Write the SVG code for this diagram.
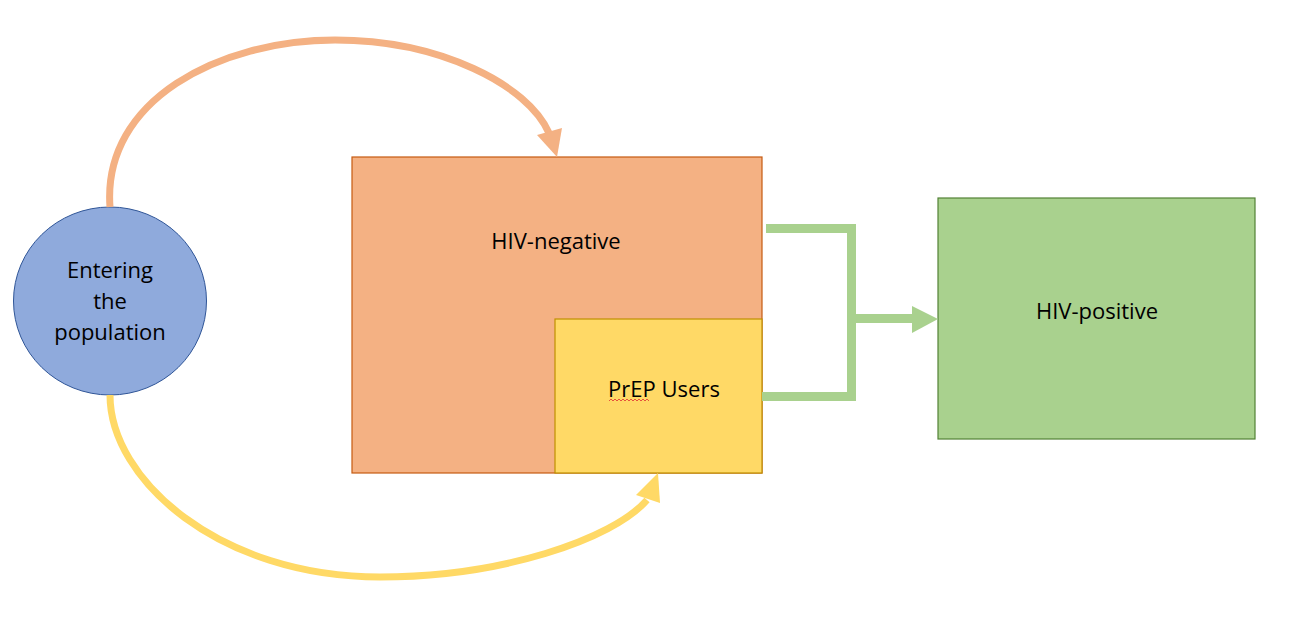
<svg xmlns="http://www.w3.org/2000/svg" width="1294" height="633" viewBox="0 0 1294 633">
<defs>
<style>
.lbl{font-family:"Open Sans","Liberation Sans",sans-serif;font-size:22px;fill:#000;text-anchor:middle}
.arc{fill:none;stroke-width:7;stroke-linecap:butt}
</style>
</defs>
<rect width="1294" height="633" fill="#fff"/>
<g id="hiv-negative">
<rect x="352" y="157" width="410" height="316" fill="#F4B183" stroke="#C55A11" stroke-width="1.2"/>
<text class="lbl" x="556" y="249">HIV-negative</text>
</g>
<g id="prep-users">
<rect x="555" y="319" width="207" height="154" fill="#FFD966" stroke="#BF9000" stroke-width="1.2"/>
<text class="lbl" x="664" y="397">PrEP Users</text>
<path d="M609,401 l2,-2 2,2 2,-2 2,2 2,-2 2,2 2,-2 2,2 2,-2 2,2 2,-2 2,2 2,-2 2,2 2,-2 2,2 2,-2 2,2 2,-2 2,2" fill="none" stroke="#E03030" stroke-width="0.8"/>
</g>
<g id="entering">
<ellipse cx="110" cy="301" rx="96.5" ry="94" fill="#8FAADC" stroke="#2F5597" stroke-width="1"/>
<text class="lbl" x="110" y="278">Entering</text>
<text class="lbl" x="110" y="309">the</text>
<text class="lbl" x="110" y="340">population</text>
</g>
<g id="hiv-positive">
<rect x="938" y="198" width="317" height="241" fill="#A9D18E" stroke="#538135" stroke-width="1.2"/>
<text class="lbl" x="1097" y="319">HIV-positive</text>
</g>
<g id="connectors">
<path class="arc" stroke="#F4B183" d="M110,207 C 102,100 220,40 335,40 C 440,40 528,85 549,133"/>
<polygon points="557,157 537,135 562,128" fill="#F4B183"/>
<path class="arc" stroke="#FFD966" d="M110,395 C 110,480 220,577 380,577 C 500,577 612,540 647,500"/>
<polygon points="658,473 636,495 660,503" fill="#FFD966"/>
<path d="M766,228.5 H851.5 V396.5 H762" fill="none" stroke="#A9D18E" stroke-width="9"/>
<path d="M847,318.5 H913" fill="none" stroke="#A9D18E" stroke-width="9"/>
<polygon points="912,306 938,319 912,333" fill="#A9D18E"/>
</g>
</svg>
